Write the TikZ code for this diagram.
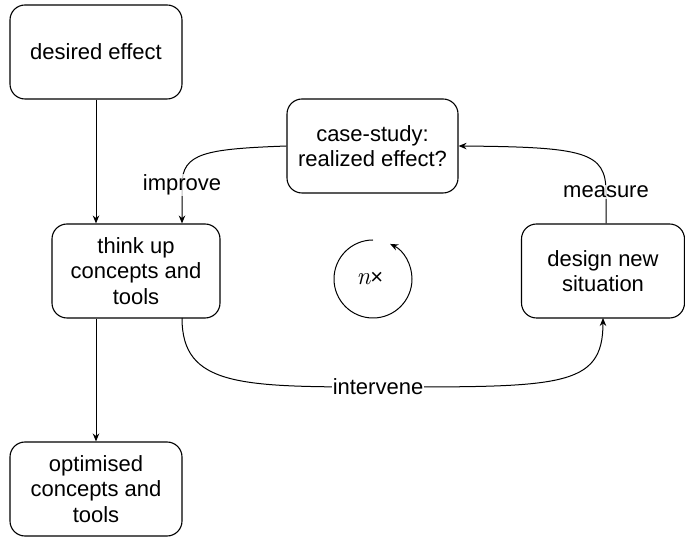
\documentclass[tikz,border=0pt]{standalone}
\usepackage{fontspec}
\setmainfont{Liberation Sans}
\newfontfamily\lmroman{Latin Modern Roman}
\usetikzlibrary{arrows.meta,calc}
\begin{document}
\begin{tikzpicture}[x=1pt,y=1pt,
  box/.style={draw, line width=1.1pt, rounded corners=15pt, align=center,
    minimum height=94pt, inner sep=0pt},
  link/.style={line width=1pt, -{Stealth[length=8pt,width=6.5pt]}},
  lbl/.style={fill=white, inner sep=1pt},
  softlbl/.style={fill=white, fill opacity=0.75, text opacity=1, inner sep=1pt},
  every node/.style={font=\fontsize{22}{25.5}\selectfont}]
\useasboundingbox (0,0) rectangle (685,538);

% process steps
\node[box, minimum width=172pt] (desired) at (96,486) {desired effect};
\node[box, minimum width=168pt] (think) at (136,267) {think up\\concepts and\\tools};
\node[box, minimum width=172pt] (optim) at (96,49) {optimised\\concepts and\\tools};
\node[box, minimum width=171pt] (case) at (372.5,392) {case-study:\\realized effect?};
\node[box, minimum width=163pt] (design) at (603,267) {design new\\situation};

% iteration mark
\coordinate (cyc) at (373,259);
\node (times) at (370,259) {{\fontsize{25}{28}\selectfont\lmroman\itshape n}×};
\draw[link] ($(cyc)+(90:39)$) arc[start angle=90, end angle=424, radius=39];

% main flow
\draw[link] (desired.south) -- (desired.south |- think.north);
\draw[link] (optim.north |- think.south) -- (optim.north);

% improvement loop
\coordinate (impmid) at (182,353);
\coordinate (measmid) at (606,346);
\coordinate (intmid) at (378,151);
\draw[link] (case.west) .. controls (205,389) and (182,385) .. (impmid)
  node[softlbl] {improve} -- (impmid |- think.north);
\draw[link] (measmid |- design.north) -- (measmid)
  node[softlbl] {measure}
  .. controls (606,386) and (585,391) .. (case.east);
\draw[link] (182,220) .. controls (182,152) and (240,151) .. (intmid)
  .. controls (560,151) and (603,150) .. (603,220);
\node[lbl] at (intmid) {intervene};
\end{tikzpicture}
\end{document}
